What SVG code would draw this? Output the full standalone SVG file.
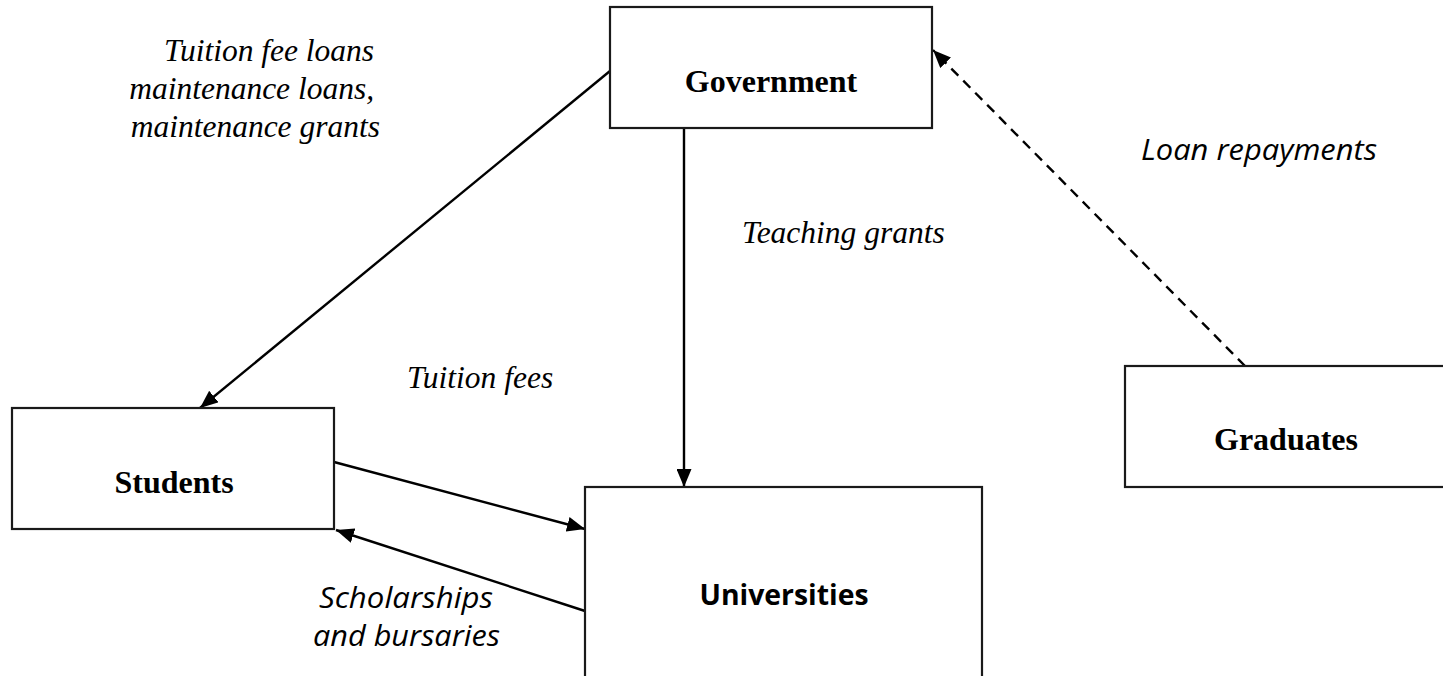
<svg xmlns="http://www.w3.org/2000/svg" width="1443" height="676" viewBox="0 0 1443 676">
  <style>
    .box { fill: #ffffff; stroke: #1a1a1a; stroke-width: 2.2; }
    .name { font-family: "Liberation Serif", "Times New Roman", serif; font-weight: bold; font-size: 32px; fill: #000; text-anchor: middle; }
    .name-sans { font-family: "Open Sans", "Noto Sans", sans-serif; font-weight: bold; font-size: 28px; fill: #000; text-anchor: middle; }
    .lbl { font-family: "Liberation Serif", "Times New Roman", serif; font-style: italic; font-size: 31.5px; fill: #000; }
    .lbl-sans { font-family: "Open Sans", "Noto Sans", sans-serif; font-style: italic; font-size: 29px; fill: #000; }
    .flow { fill: none; stroke: #000; stroke-width: 2.4; }
    .dash { stroke-dasharray: 10 7; }
  </style>
  <defs>
    <marker id="arrow" markerUnits="userSpaceOnUse" markerWidth="19" markerHeight="15" refX="18" refY="7.5" orient="auto">
      <path d="M0,0 L18,7.5 L0,15 z" fill="#000"/>
    </marker>
  </defs>

  <rect width="1443" height="676" fill="#ffffff"/>

  <!-- money flows between the parties -->
  <g id="connectors">
    <line class="flow" x1="610" y1="71" x2="200" y2="408" marker-end="url(#arrow)"/>
    <line class="flow" x1="684" y1="128" x2="684" y2="487" marker-end="url(#arrow)"/>
    <line class="flow" x1="334" y1="462" x2="585" y2="529" marker-end="url(#arrow)"/>
    <line class="flow" x1="585" y1="611" x2="336" y2="530" marker-end="url(#arrow)"/>
    <line class="flow dash" x1="1245" y1="366" x2="933" y2="50" marker-end="url(#arrow)"/>
  </g>

  <g id="government">
    <rect class="box" x="610" y="7" width="322" height="121"/>
    <text class="name" x="771" y="92">Government</text>
  </g>

  <g id="students">
    <rect class="box" x="12" y="408" width="322" height="121"/>
    <text class="name" x="174" y="493">Students</text>
  </g>

  <g id="universities">
    <rect class="box" x="585" y="487" width="397" height="220"/>
    <text class="name-sans" x="784" y="605" textLength="169" lengthAdjust="spacingAndGlyphs">Universities</text>
  </g>

  <g id="graduates">
    <rect class="box" x="1125" y="366" width="340" height="121"/>
    <text class="name" x="1286" y="450">Graduates</text>
  </g>

  <!-- flow labels -->
  <g id="labels">
    <text class="lbl" text-anchor="end">
      <tspan x="382" y="61">Tuition fee loans</tspan>
      <tspan x="382" y="99">maintenance loans,</tspan>
      <tspan x="380" y="137">maintenance grants</tspan>
    </text>
    <text class="lbl" x="742" y="243">Teaching grants</text>
    <text class="lbl" x="407" y="388">Tuition fees</text>
    <text class="lbl-sans" x="1141" y="160" textLength="236" lengthAdjust="spacingAndGlyphs">Loan repayments</text>
    <text class="lbl-sans">
      <tspan x="319" y="608" textLength="174" lengthAdjust="spacingAndGlyphs">Scholarships</tspan>
      <tspan x="313" y="646" textLength="187" lengthAdjust="spacingAndGlyphs">and bursaries</tspan>
    </text>
  </g>
</svg>
